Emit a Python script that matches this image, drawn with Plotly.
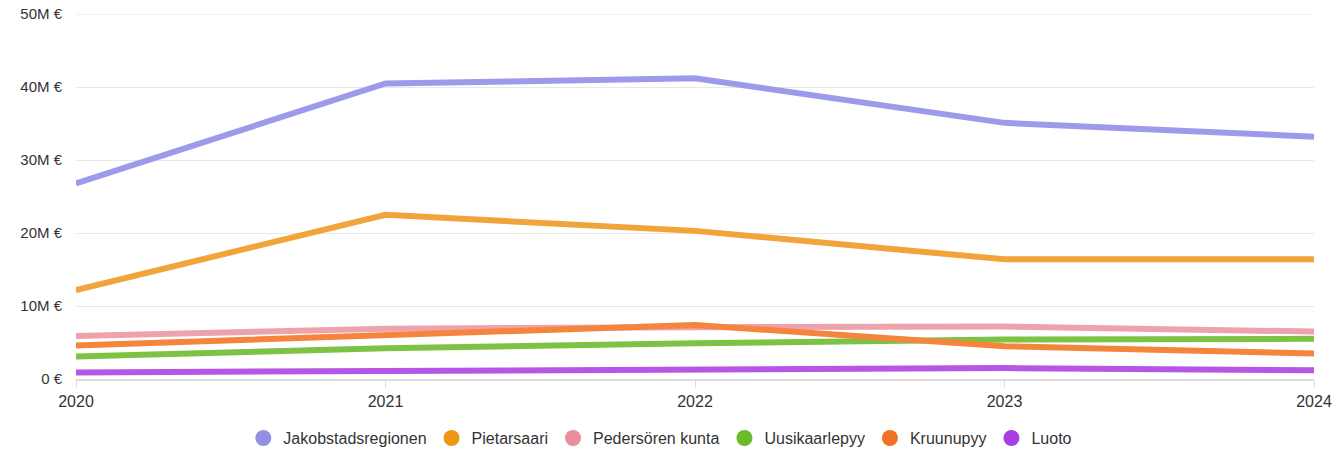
import plotly.graph_objects as go

years = [2020, 2021, 2022, 2023, 2024]

jakobstadsregionen = [26.8e6, 40.5e6, 41.2e6, 35.1e6, 33.2e6]
pietarsaari = [12.2e6, 22.5e6, 20.3e6, 16.4e6, 16.4e6]
pedersoren = [5.9e6, 6.9e6, 7.1e6, 7.2e6, 6.5e6]
uusikaarlepyy = [3.1e6, 4.2e6, 4.9e6, 5.4e6, 5.5e6]
kruunupyy = [4.6e6, 5.9e6, 7.4e6, 4.5e6, 3.5e6]
luoto = [0.9e6, 1.1e6, 1.5e6, 1.5e6, 1.2e6]

y_tickvals = [0, 10e6, 20e6, 30e6, 40e6, 50e6]
y_ticktext = ['0 €', '10M €', '20M €', '30M €', '40M €', '50M €']

series = [
    ('Jakobstadsregionen', jakobstadsregionen, '#9d9be9', '#9390e2'),
    ('Pietarsaari', pietarsaari, '#f0a43a', '#ee9714'),
    ('Pedersören kunta', pedersoren, '#eea2ac', '#ea8e9c'),
    ('Uusikaarlepyy', uusikaarlepyy, '#7dc245', '#6cb92c'),
    ('Kruunupyy', kruunupyy, '#f5843c', '#f17222'),
    ('Luoto', luoto, '#b655e6', '#a83fe2'),
]

fig = go.Figure()

for name, values, line_color, dot_color in series:
    fig.add_trace(go.Scatter(
        x=years, y=values, mode='lines', name=name,
        legendgroup=name, showlegend=False,
        line=dict(color=line_color, width=6),
    ))
    # legend entry drawn as a round dot
    fig.add_trace(go.Scatter(
        x=[None], y=[None], mode='markers', name=name,
        legendgroup=name,
        marker=dict(color=dot_color, size=17, symbol='circle'),
    ))

fig.update_layout(
    width=1337, height=450,
    margin=dict(l=76, r=23, t=14, b=71, autoexpand=False),
    plot_bgcolor='white', paper_bgcolor='white',
    font=dict(family='Liberation Sans, Arial, sans-serif', size=15, color='#333333'),
    showlegend=True,
    legend=dict(
        orientation='h', x=0.472, xanchor='center', y=-0.162, yanchor='middle',
        font=dict(size=16, color='#333333'),
        itemwidth=30, tracegroupgap=0,
    ),
    xaxis=dict(
        range=[2020, 2024], tickvals=years, ticktext=[str(y) for y in years],
        showgrid=False, showline=True, linecolor='#dcdcdc', linewidth=2,
        ticks='outside', ticklen=7, tickcolor='#dcdcdc', tickwidth=1,
        tickfont=dict(size=16), zeroline=False, ticklabeloverflow='allow',
    ),
    yaxis=dict(
        range=[0, 50.02e6], tickvals=y_tickvals, ticktext=y_ticktext,
        showgrid=True, gridcolor='#e8e8e8', gridwidth=1,
        zeroline=False, showline=False, ticks='', ticklabelstandoff=13,
        tickfont=dict(size=15), ticklabeloverflow='allow',
    ),
)

# top gridline sits on the plot edge and gets dropped, so draw it explicitly
fig.add_shape(
    type='line', xref='paper', yref='y', x0=0, x1=1,
    y0=y_tickvals[-1], y1=y_tickvals[-1],
    line=dict(color='#e8e8e8', width=1), layer='below',
)

# drop the page's default body margin so the figure fills the window
fig.write_html(
    "out.html",
    config={'displayModeBar': False},
    post_script="document.body.style.margin='0';",
)
